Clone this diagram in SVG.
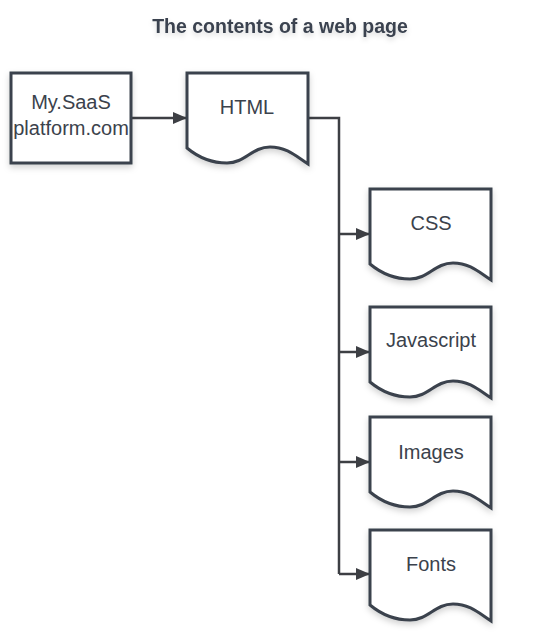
<svg xmlns="http://www.w3.org/2000/svg" width="539" height="636" viewBox="0 0 539 636">
<defs>
<filter id="sh" x="-20%" y="-20%" width="140%" height="150%">
<feDropShadow dx="0" dy="3" stdDeviation="3" flood-color="#000" flood-opacity="0.18"/>
</filter>
<filter id="tsh" x="-10%" y="-50%" width="120%" height="200%">
<feDropShadow dx="0" dy="3" stdDeviation="2.5" flood-color="#000" flood-opacity="0.15"/>
</filter>
<marker id="ah" markerWidth="14" markerHeight="12" refX="13" refY="6" orient="auto" markerUnits="userSpaceOnUse">
<path d="M0,0 L14,6 L0,12 Z" fill="#3d3f44"/>
</marker>
<path id="doc" d="M0,0 H121 V91 C110,84 100,74 83,74 C65,74 58,90 40,90 C25,90 12,85 0,75 Z"/>
</defs>
<style>
.shape{fill:#fff;stroke:#3b434d;stroke-width:3;stroke-linejoin:miter;filter:url(#sh)}
.lbl{font-family:"Liberation Sans",Arial,sans-serif;font-size:20px;fill:#3b424c;text-anchor:middle}
.title{font-family:"Liberation Sans",Arial,sans-serif;font-size:19.5px;font-weight:bold;fill:#3b4350;text-anchor:middle;filter:url(#tsh)}
.conn{fill:none;stroke:#3d3f44;stroke-width:2.5}
</style>
<rect width="539" height="636" fill="#fff"/>
<text class="title" x="280" y="33">The contents of a web page</text>
<g id="connectors">
<path class="conn" d="M131,118 H186" marker-end="url(#ah)"/>
<path class="conn" d="M307,118 H339 V574"/>
<path class="conn" d="M339,234 H369" marker-end="url(#ah)"/>
<path class="conn" d="M339,352 H369" marker-end="url(#ah)"/>
<path class="conn" d="M339,462 H369" marker-end="url(#ah)"/>
<path class="conn" d="M339,574 H369" marker-end="url(#ah)"/>
</g>
<g id="node-site">
<rect class="shape" x="11" y="73" width="120" height="90"/>
<text class="lbl" x="71" y="109">My.SaaS</text>
<text class="lbl" x="71" y="135">platform.com</text>
</g>
<g id="node-html" transform="translate(187,73)">
<use href="#doc" class="shape"/>
<text class="lbl" x="60" y="41">HTML</text>
</g>
<g id="node-css" transform="translate(370,189)">
<use href="#doc" class="shape"/>
<text class="lbl" x="61" y="41">CSS</text>
</g>
<g id="node-js" transform="translate(370,307)">
<use href="#doc" class="shape"/>
<text class="lbl" x="61" y="40">Javascript</text>
</g>
<g id="node-images" transform="translate(370,417)">
<use href="#doc" class="shape"/>
<text class="lbl" x="61" y="42">Images</text>
</g>
<g id="node-fonts" transform="translate(370,530)">
<use href="#doc" class="shape"/>
<text class="lbl" x="61" y="41">Fonts</text>
</g>
</svg>
